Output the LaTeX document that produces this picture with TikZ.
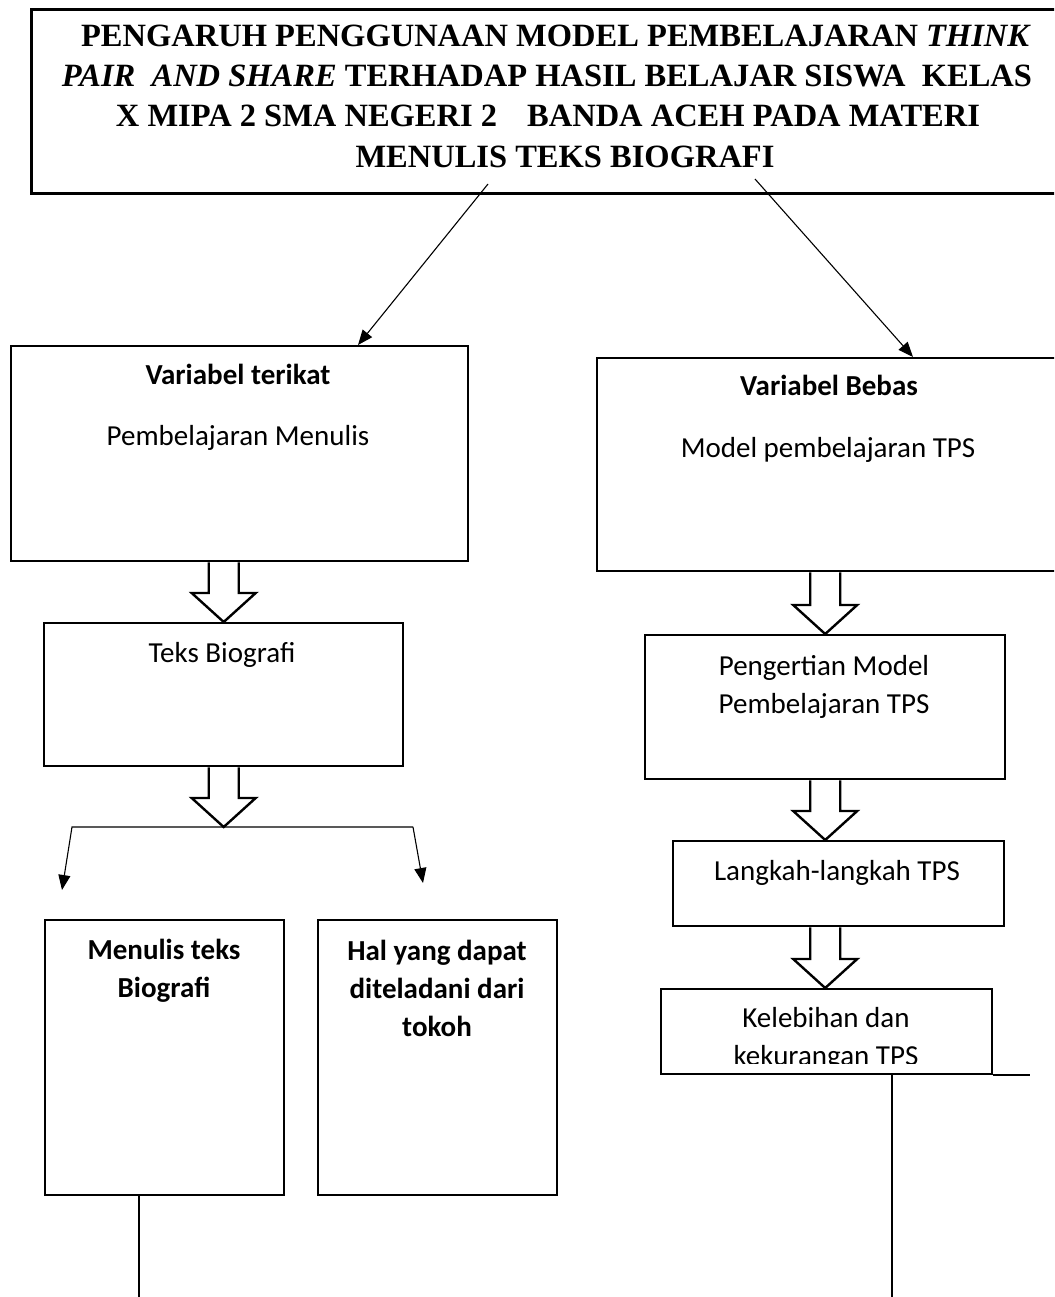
\documentclass[tikz,border=0pt]{standalone}
\usepackage{fontspec}
\setmainfont{Carlito}
\newfontfamily\titlefont{Liberation Serif}
\usetikzlibrary{calc,arrows.meta}
\newcommand\BlkArrow[2]{%
  \draw[blk] let \p1=(#1), \p2=(#2) in
    (\x2-15pt,\y1) -- (\x2-15pt,\y2+29pt) -- (\x2-32pt,\y2+29pt) -- (\x2,\y2)
    -- (\x2+32pt,\y2+29pt) -- (\x2+15pt,\y2+29pt) -- (\x2+15pt,\y1);}
\begin{document}
\begin{tikzpicture}[x=1pt,y=-1pt,
  box/.style={draw, line width=2.4pt, rectangle, inner sep=0pt, anchor=north west},
  txt/.style={anchor=base, inner sep=0pt, align=center, font=\fontsize{29}{38}\selectfont},
  btxt/.style={txt, font=\fontsize{29}{38}\selectfont\bfseries},
  ttl/.style={anchor=base, inner sep=0pt, font=\titlefont\fontsize{32.5}{40}\selectfont\bfseries},
  conn/.style={line width=1.1pt},
  tip/.style={-{Triangle[length=15pt,width=12pt]}},
  blk/.style={line width=2.4pt, line join=miter}]
\useasboundingbox (0,0) rectangle (1054,1297);
\clip (0,0) rectangle (1054,1297);

% title
\node[box, line width=3pt, minimum width=1060pt, minimum height=184pt] (title) at (30,8) {};
\node[ttl] (tl1) at (556,47) {PENGARUH PENGGUNAAN MODEL PEMBELAJARAN \textit{THINK}};
\node[ttl] (tl2) at (547,87) {\textit{PAIR\ \ AND SHARE} TERHADAP HASIL BELAJAR SISWA\ \ KELAS};
\node[ttl] (tl3) at (548,127) {X MIPA 2 SMA NEGERI 2\hspace{30pt}BANDA ACEH PADA MATERI};
\node[ttl] (tl4) at (565,168) {MENULIS TEKS BIOGRAFI};

% boxes
\node[box, minimum width=457pt, minimum height=215pt] (vt) at (10,345) {};
\node[box, minimum width=470pt, minimum height=213pt] (vb) at (596,357) {};
\node[box, minimum width=359pt, minimum height=143pt] (teks) at (43,622) {};
\node[box, minimum width=360pt, minimum height=144pt] (pen) at (644,634) {};
\node[box, minimum width=331pt, minimum height=85pt] (lang) at (672,840) {};
\node[box, minimum width=331pt, minimum height=85pt] (keleb) at (660,988) {};
\node[box, minimum width=239pt, minimum height=275pt] (menulis) at (44,919) {};
\node[box, minimum width=239pt, minimum height=275pt] (hal) at (317,919) {};

% texts (multi-line nodes: base = baseline of last line)
\node[btxt] (vtA) at (238,384) {Variabel terikat};
\node[txt] (vtB) at (238,445) {Pembelajaran Menulis};
\node[btxt] (vbA) at (829,395) {Variabel Bebas};
\node[txt] (vbB) at (828,457) {Model pembelajaran TPS};
\node[txt] (teksA) at (222,662) {Teks Biografi};
\node[txt] (penA) at (824,713) {Pengertian Model\\Pembelajaran TPS};
\node[txt] (langA) at (837,880) {Langkah-langkah TPS};
\begin{scope}
\clip (660,988) rectangle (991,1063);
\node[txt] (kelebA) at (826,1065) {Kelebihan dan\\kekurangan TPS};
\end{scope}
\node[btxt] (menA) at (164,997) {Menulis teks\\Biografi};
\node[btxt] (halA) at (437,1036) {Hal yang dapat\\diteladani dari\\tokoh};

% title connectors
\coordinate (t1) at (488,184);
\coordinate (t2) at (755,179);
\draw[conn,tip] (t1) -- ([xshift=348pt]vt.north west);
\draw[conn,tip] (t2) -- ([xshift=317pt]vb.north west);

% block arrows
\BlkArrow{vt.south -| teks.north}{teks.north}
\coordinate (brl) at (72,827);
\coordinate (brr) at (413,827);
\coordinate (bc) at (teks.south |- brl);
\BlkArrow{teks.south}{bc}
\BlkArrow{vb.south -| pen.north}{pen.north}
\BlkArrow{pen.south}{lang.north -| pen.south}
\BlkArrow{lang.south -| pen.south}{keleb.north -| pen.south}

% branch
\coordinate (brlt) at (62,890);
\coordinate (brrt) at (423,883);
\draw[conn,tip] (brr) -- (brl) -- (brlt);
\draw[conn,tip] (brr) -- (brrt);

% bottom lines
\coordinate (endl) at (139,1297);
\draw[conn] (menulis.south -| endl) -- (endl);
\coordinate (endr) at (892,1297);
\draw[conn] (keleb.south -| endr) -- (endr);
\coordinate (endh) at (1030,1075);
\draw[conn] (keleb.south east |- endh) -- (endh);
\end{tikzpicture}
\end{document}
